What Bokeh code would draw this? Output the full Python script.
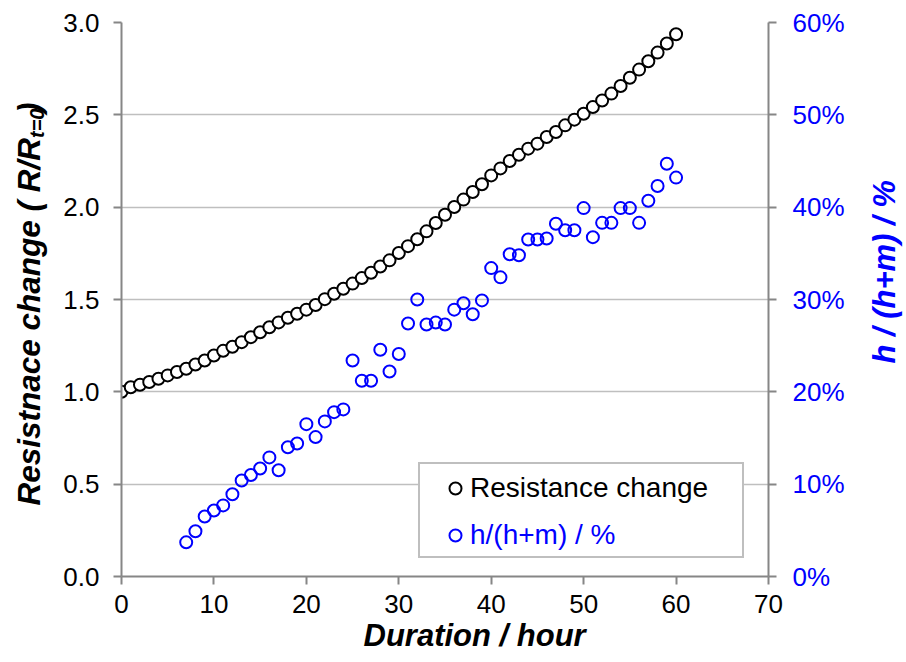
import math
from bokeh.plotting import figure
from bokeh.layouts import row
from bokeh.core.properties import value
from bokeh.models import (Range1d, LinearAxis, FixedTicker, PrintfTickFormatter,
                          NumeralTickFormatter, Legend, LegendItem, Title, ColumnDataSource)
from bokeh.embed import file_html
from bokeh.resources import INLINE

# ---- data ----
hours_r = list(range(0, 61))
resistance = [1.000, 1.025, 1.038, 1.053, 1.071, 1.089, 1.107, 1.125, 1.148, 1.170,
              1.197, 1.222, 1.244, 1.269, 1.296, 1.323, 1.350, 1.376, 1.401, 1.423,
              1.445, 1.470, 1.502, 1.531, 1.558, 1.586, 1.616, 1.645, 1.679, 1.712,
              1.752, 1.789, 1.826, 1.869, 1.914, 1.959, 2.001, 2.041, 2.082, 2.124,
              2.172, 2.210, 2.250, 2.284, 2.317, 2.344, 2.380, 2.407, 2.443, 2.474,
              2.506, 2.542, 2.578, 2.615, 2.656, 2.701, 2.745, 2.790, 2.837, 2.886,
              2.936]
hours_h = list(range(7, 61))
h_ratio_pct = [3.7, 4.9, 6.5, 7.15, 7.7, 8.9, 10.4, 11.0, 11.7, 12.9,
               11.5, 14.0, 14.4, 16.5, 15.1, 16.8, 17.8, 18.1, 23.4, 21.2,
               21.2, 24.55, 22.2, 24.1, 27.4, 30.0, 27.3, 27.5, 27.3, 28.9,
               29.6, 28.4, 29.9, 33.4, 32.4, 34.9, 34.8, 36.5, 36.5, 36.6,
               38.2, 37.5, 37.5, 39.9, 36.75, 38.3, 38.3, 39.9, 39.9, 38.3,
               40.7, 42.3, 44.7, 43.2]
x_ticks = [0, 10, 20, 30, 40, 50, 60, 70]
y_ticks = [0.0, 0.5, 1.0, 1.5, 2.0, 2.5, 3.0]
pct_ticks = [0, 10, 20, 30, 40, 50, 60]
series_names = ["Resistance change", "h/(h+m) / %"]
x_title = "Duration / hour"
y_title_parts = ["Resistnace change ( R/R", "t=0", " )"]
y2_title = "h / (h+m) / %"

FONT = "Liberation Sans"
BLUE = "#0000FF"
AXIS_GRAY = "#868686"

# ---------------- main chart ----------------
p = figure(width=800, height=662, output_backend="svg", toolbar_location=None,
           x_range=Range1d(0, 70), y_range=Range1d(0, 3),
           min_border_left=71, min_border_right=82, min_border_top=22, min_border_bottom=86)
p.extra_y_ranges = {"pct": Range1d(0, 60)}
p.outline_line_color = None
p.background_fill_color = "white"
p.border_fill_color = "white"

p.xgrid.grid_line_color = None
p.ygrid.grid_line_color = "#BFBFBF"
p.ygrid.grid_line_width = 1.4
p.ygrid.ticker = FixedTicker(ticks=y_ticks)

def style_axis(ax, color="black"):
    ax.axis_line_color = AXIS_GRAY
    ax.axis_line_width = 2
    ax.major_tick_line_color = AXIS_GRAY
    ax.major_tick_line_width = 2
    ax.major_tick_out = 8
    ax.major_tick_in = 0
    ax.minor_tick_line_color = None
    ax.major_label_text_font = FONT
    ax.major_label_text_font_size = "26px"
    ax.major_label_text_color = color

xa = p.xaxis[0]
xa.ticker = FixedTicker(ticks=x_ticks)
style_axis(xa)
xa.major_label_standoff = 10

ya = p.yaxis[0]
ya.ticker = FixedTicker(ticks=y_ticks)
ya.formatter = NumeralTickFormatter(format="0.0")
style_axis(ya)
ya.major_label_standoff = 14

ra = LinearAxis(y_range_name="pct", ticker=FixedTicker(ticks=pct_ticks),
                formatter=PrintfTickFormatter(format="%d%%"))
style_axis(ra, BLUE)
ra.major_label_standoff = 16
p.add_layout(ra, "right")

p.add_layout(Title(text=x_title, align="left", offset=242, standoff=0,
                   text_font=FONT, text_font_style="bold italic",
                   text_font_size="31px", text_color="black"), "below")

src_r = ColumnDataSource(dict(x=hours_r, y=resistance))
src_h = ColumnDataSource(dict(x=hours_h, y=h_ratio_pct))
r1 = p.scatter("x", "y", source=src_r, marker="circle", size=12,
               line_color="black", line_width=2, fill_color="white")
r2 = p.scatter("x", "y", source=src_h, y_range_name="pct", marker="circle", size=12,
               line_color=BLUE, line_width=2, fill_color=None)

leg0 = Legend(items=[LegendItem(label=" ", renderers=[])], location=(297, 18),
              padding=0, spacing=0, margin=0, glyph_width=20, glyph_height=92,
              label_height=92, label_width=302, label_standoff=0,
              label_text_font=FONT, label_text_font_size="28px",
              border_line_color="#7F7F7F", border_line_width=2,
              background_fill_color="white", background_fill_alpha=1.0)
entry = dict(padding=0, spacing=0, margin=0, glyph_width=30, glyph_height=30,
             label_height=30, label_standoff=0, label_text_font=FONT,
             label_text_font_size="28px", border_line_color=None,
             background_fill_alpha=0.0)
leg1 = Legend(items=[LegendItem(label=series_names[0], renderers=[r1])],
              location=(319, 72), label_text_color="black", **entry)
leg2 = Legend(items=[LegendItem(label=series_names[1], renderers=[r2])],
              location=(319, 25), label_text_color=BLUE, **entry)
p.add_layout(leg0)
p.add_layout(leg1)
p.add_layout(leg2)

# ---------------- side strips carrying the rotated axis titles ----------------
def strip(width):
    s = figure(width=width, height=662, output_backend="svg", toolbar_location=None,
               x_range=Range1d(0, width), y_range=Range1d(0, 662),
               x_axis_type=None, y_axis_type=None, min_border=0)
    s.outline_line_color = None
    s.grid.grid_line_color = None
    s.background_fill_color = "white"
    s.border_fill_color = "white"
    return s

tkw = dict(angle=math.pi / 2, text_baseline="middle", text_font=value(FONT),
           text_font_style="bold italic")

left = strip(50)
left.text(x=[28], y=[524], text=[y_title_parts[0]], text_align="right",
          text_font_size="31.5px", text_color="black", **tkw)
left.text(x=[36], y=[524], text=[y_title_parts[1]], text_align="left",
          text_font_size="20px", text_color="black", **tkw)
left.text(x=[28], y=[554], text=[y_title_parts[2]], text_align="left",
          text_font_size="31.5px", text_color="black", **tkw)

right = strip(56)
right.text(x=[34], y=[364], text=[y2_title], text_align="center",
           text_font_size="31px", text_color=BLUE, **tkw)

layout = row(left, p, right, spacing=0)
open("out.html", "w").write(file_html(layout, INLINE))
